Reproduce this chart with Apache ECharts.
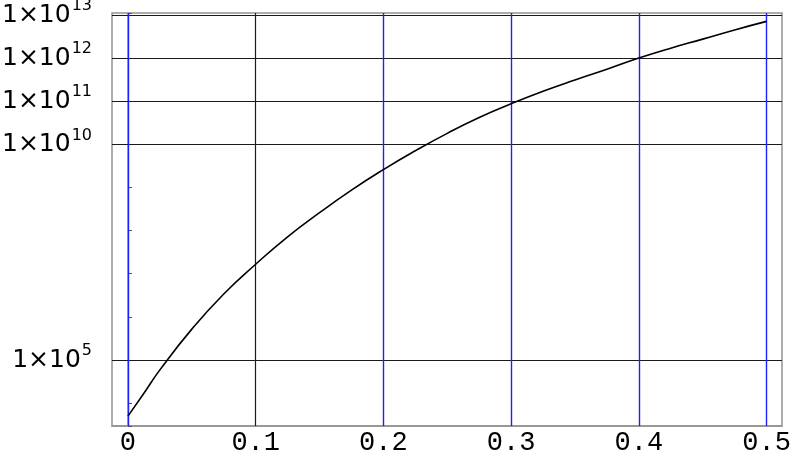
<!DOCTYPE html>
<html>
<head>
<meta charset="utf-8">
<script src="https://cdn.jsdelivr.net/npm/echarts@6/dist/echarts.min.js"></script>
<style>
  html, body { margin: 0; padding: 0; background: #fff; }
  #chart { width: 790px; height: 450px; }
</style>
</head>
<body>
<div id="chart"></div>
<script>
// curve
const xValues = [0, 0.0125, 0.025, 0.05, 0.075, 0.1, 0.125, 0.15, 0.175, 0.2, 0.225,
  0.25, 0.275, 0.3, 0.325, 0.35, 0.375, 0.4, 0.425, 0.45, 0.475, 0.5];
const yValues = [5.0e3, 1.7e4, 5.9e4, 5.2e5, 3.4e6, 1.66e7, 7.2e7, 2.6e8, 8.7e8, 2.6e9, 7.1e9,
  1.8e10, 4.2e10, 8.7e10, 1.7e11, 3.1e11, 5.5e11, 1.0e12, 1.7e12, 2.75e12, 4.5e12, 7.1e12];

// axes
const xTicks = [0, 0.1, 0.2, 0.3, 0.4, 0.5];
const xBlueLines = [0, 0.2, 0.3, 0.4, 0.5];
const xDarkLines = [0.1];
const yLabelled = [1e5, 1e10, 1e11, 1e12, 1e13];

let chart = echarts.init(document.getElementById("chart"));

function yLabel(value) {
  let e = Math.log10(value);
  let r = Math.round(e);
  if (Math.abs(e - r) > 1e-6) return "";
  if (yLabelled.indexOf(Math.pow(10, r)) < 0) return "";
  return "{b|1\u00d710}{s|" + r + "}";
}

// one empty series per gridline colour, carrying markLines
function gridSeries(key, values, color, width) {
  return {
    type: "line",
    data: [],
    silent: true,
    markLine: {
      silent: true,
      symbol: "none",
      animation: false,
      label: { show: false },
      lineStyle: { color: color, width: width, type: "solid" },
      data: values.map((v) => ({ [key]: v })),
    },
  };
}

let option = {
  animation: false,
  grid: {
    left: 112,
    right: 8,
    top: 13,
    bottom: 24,
    containLabel: false,
    outerBoundsMode: "none",
    show: true,
    borderColor: "#939393",
    borderWidth: 1.5,
  },
  xAxis: {
    type: "value",
    min: -0.0125,
    max: 0.5121,
    axisLine: { show: true, lineStyle: { color: "#939393", width: 1.5 } },
    axisTick: { show: false },
    axisLabel: {
      customValues: xTicks,
      fontFamily: "Liberation Mono",
      fontSize: 27,
      color: "#000",
      margin: 3,
      formatter: (v) => String(v),
    },
    splitLine: { show: false },
  },
  yAxis: {
    type: "log",
    logBase: 10,
    min: 2951,
    max: 1.11e13,
    splitNumber: 10,
    axisLine: { show: true, lineStyle: { color: "#939393", width: 1.5 } },
    axisTick: { show: true, inside: true, length: 4, lineStyle: { color: "#555" } },
    splitLine: { show: false },
    axisLabel: {
      margin: 20,
      formatter: yLabel,
      rich: {
        b: { fontFamily: "DejaVu Sans", fontSize: 25, color: "#000", lineHeight: 26, verticalAlign: "bottom" },
        s: { fontFamily: "DejaVu Sans", fontSize: 16, color: "#000", lineHeight: 16, verticalAlign: "bottom", padding: [0, 0, 14, 1] },
      },
    },
  },
  series: [
    gridSeries("yAxis", yLabelled, "#1a1a1a", 1.1),
    gridSeries("xAxis", xBlueLines, "#2020ff", 1.4),
    gridSeries("xAxis", xDarkLines, "#15154a", 1.2),
    {
      type: "line",
      data: xValues.map((x, i) => [x, yValues[i]]),
      smooth: true,
      symbol: "none",
      lineStyle: { color: "#000", width: 1.6 },
      z: 10,
    },
  ],
};
option && chart.setOption(option);
</script>
</body>
</html>
